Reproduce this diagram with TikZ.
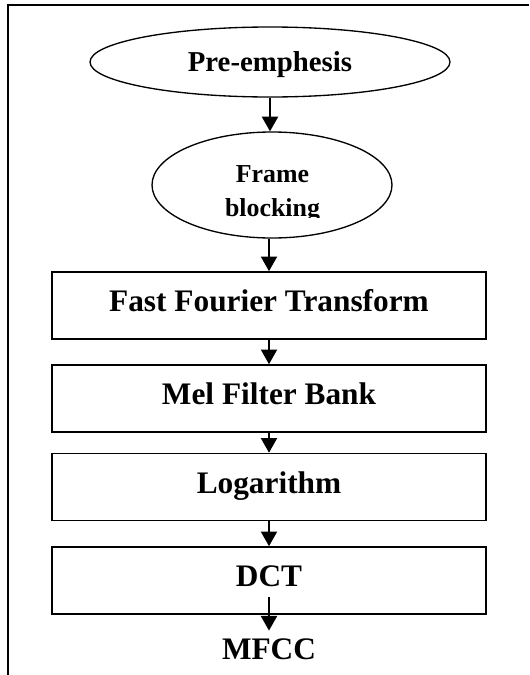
\documentclass[tikz,border=0pt]{standalone}
\usepackage{fontspec}
\setmainfont{Liberation Serif}
\usetikzlibrary{shapes.geometric,arrows.meta}

\tikzset{every picture/.style={line width=0.75pt}}
\tikzset{
  oval/.style={draw,ellipse,inner sep=0pt,line width=1pt},
  stage/.style={draw,rectangle,line width=1.2pt,minimum width=325.5pt,minimum height=50.25pt,inner sep=0pt,
    font=\fontsize{23.5}{28}\selectfont\bfseries,text height=16pt,text depth=7pt},
  flow/.style={line width=1.6pt,-{Triangle[length=11pt,width=12pt]}}
}

\begin{document}
\begin{tikzpicture}[x=0.75pt,y=0.75pt,yscale=-1,xscale=1]
\useasboundingbox (0,0) rectangle (529,675);

%Straight Lines: outer frame
\draw [line width=1pt] (8,675) -- (8,5) -- (529,5) ;

%Shape: Ellipse [pre-emphesis]
\node [oval,minimum width=270pt,minimum height=52.5pt,font=\fontsize{21.6}{26}\selectfont\bfseries,text height=14.7pt,text depth=0pt] (pre) at (270,62) {Pre-emphesis};
%Shape: Ellipse [frame blocking]
\node [oval,minimum width=180pt,minimum height=79.5pt] (frame) at (272,185) {};
% Text Node (cut off at the bottom)
\begin{scope}
\clip (150,150) rectangle (395,217);
\node [font=\fontsize{19.4}{25.5}\selectfont\bfseries,align=center,inner sep=0pt] (framelbl) at (272.5,193.4) {Frame\\blocking};
\end{scope}

%Shape: Rectangles
\node [stage] (fft) at (269,305.5) {Fast Fourier Transform};
\node [stage] (mel) at (269,398.5) {Mel Filter Bank};
\node [stage] (log) at (269,487) {Logarithm};
\node [stage] (dct) at (269,580.5) {DCT};

% Text Node
\node [font=\fontsize{23.5}{28}\selectfont\bfseries,text height=15.6pt,text depth=0pt,inner sep=6pt] (mfcc) at (269,649.5) {MFCC};
\coordinate (dctout) at (269,597);

%Straight Lines
\draw [flow] (pre.south) -- (pre.south |- frame.north) ;
\draw [flow] (frame.south -| fft.north) -- (fft.north) ;
\draw [flow] (fft.south) -- (mel.north) ;
\draw [flow] (mel.south) -- (log.north) ;
\draw [flow] (log.south) -- (dct.north) ;
\draw [flow] (dctout) -- (mfcc.north) ;

\end{tikzpicture}
\end{document}
